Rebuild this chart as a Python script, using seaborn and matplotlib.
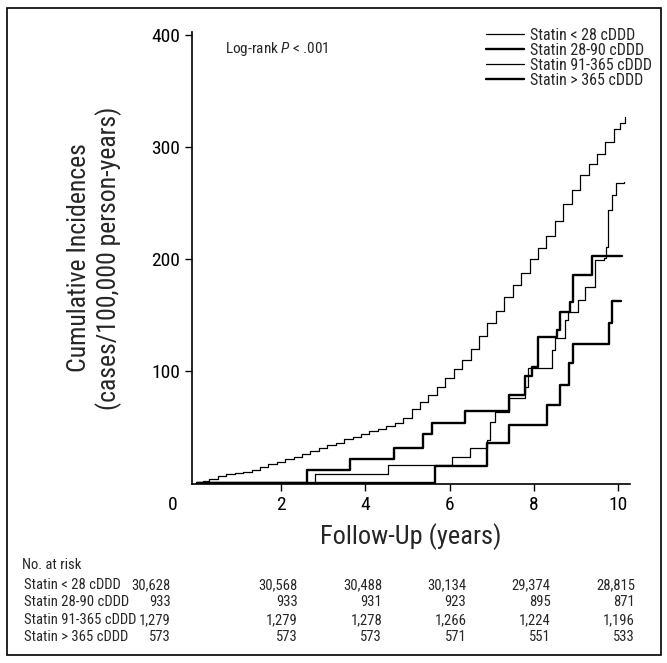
import numpy as np
import pandas as pd
import seaborn as sns
import matplotlib.pyplot as plt
from matplotlib import font_manager
from matplotlib.patches import Rectangle
from matplotlib.transforms import ScaledTranslation, blended_transform_factory

# Cumulative incidence curves (years, cases/100,000 person-years)
low_t = [0, 0.15, 0.3, 0.5, 0.7, 0.9, 1.1, 1.3, 1.5, 1.7, 1.9, 2.1, 2.3, 2.5, 2.7,
         2.9, 3.1, 3.3, 3.5, 3.7, 3.9, 4.1, 4.3, 4.5, 4.7, 4.9, 5.1, 5.3, 5.5, 5.7,
         5.9, 6.1, 6.3, 6.5, 6.7, 6.9, 7.1, 7.3, 7.5, 7.7, 7.9, 8.1, 8.3, 8.5, 8.7,
         8.9, 9.1, 9.3, 9.5, 9.7, 9.9, 10.05, 10.17]
low_y = [0, 2, 4, 6, 8, 9, 10, 12, 14.6, 17, 19, 21, 23.5, 26, 28.5,
         31, 33.5, 36, 39, 41, 43.5, 46, 48.5, 51, 54, 58, 66, 72, 79, 86,
         94, 102, 110, 120, 131, 143, 154, 166, 177, 188, 200, 210, 221, 234, 249,
         262, 275, 285, 294, 305, 316, 322, 327]

mid_t = [0, 2.61, 3.64, 4.67, 5.38, 5.58, 6.37, 7.4, 7.8, 7.95, 8.11, 8.55, 8.63,
         8.86, 8.94, 9.38, 10.09]
mid_y = [0, 11.6, 21, 31.5, 43.5, 54, 64, 78.6, 96, 104, 130.6, 136.6, 153,
         162, 185.7, 202.7, 202.7]

high_t = [0, 2.81, 4.55, 6.05, 6.49, 6.9, 6.96, 7.08, 7.4, 7.8, 7.87, 8.43, 8.51,
          8.75, 8.82, 9.06, 9.22, 9.46, 9.66, 9.72, 9.76, 9.86, 9.95, 10.15]
high_y = [0, 8, 16, 23.5, 31, 38.4, 54.8, 63.7, 75.6, 86, 102.4, 118.8, 129.2,
          145.5, 153, 163.4, 175.3, 199, 201, 211, 244, 257, 268, 269]

top_t = [0, 5.66, 6.9, 7.4, 8.31, 8.63, 8.83, 8.94, 9.78, 9.85, 10.07]
top_y = [0, 15.5, 35.4, 51.8, 69.6, 87.5, 107, 124, 142.6, 162.5, 162.5]

groups = ["Statin < 28 cDDD", "Statin 28-90 cDDD", "Statin 91-365 cDDD", "Statin > 365 cDDD"]

# Number at risk
risk_times = [0, 2, 4, 6, 8, 10]
risk_low = ["30,628", "30,568", "30,488", "30,134", "29,374", "28,815"]
risk_mid = ["933", "933", "931", "923", "895", "871"]
risk_high = ["1,279", "1,279", "1,278", "1,266", "1,224", "1,196"]
risk_top = ["573", "573", "573", "571", "551", "533"]

# pick a narrow face if one is installed
names = {f.name for f in font_manager.fontManager.ttflist}
narrow = [n for n in ["Liberation Sans Narrow", "Roboto Condensed", "DejaVu Sans Condensed",
                      "Open Sans Condensed", "Noto Sans Condensed"] if n in names]
family = narrow[0] if narrow else "Liberation Sans"
scale = 1.0 if narrow else 0.86

sns.set_style("ticks")
plt.rcParams["font.family"] = [family, "DejaVu Sans"]
plt.rcParams["mathtext.fontset"] = "custom"
plt.rcParams["mathtext.rm"] = family
plt.rcParams["mathtext.it"] = family + ":italic"

fig = plt.figure(figsize=(6.67, 6.63), dpi=100)
ax = fig.add_axes([0.288, 0.270, 0.657, 0.682])

curves = [(low_t, low_y, 0.9), (mid_t, mid_y, 1.7), (high_t, high_y, 0.9), (top_t, top_y, 1.7)]
for (t, y, lw), name in zip(curves, groups):
    df = pd.DataFrame({"t": t, "y": y})
    sns.lineplot(df, x="t", y="y", ax=ax, color="black", linewidth=lw,
                 drawstyle="steps-post", label=name, estimator=None)

ax.set_xlim(-0.11, 10.29)
ax.set_ylim(-0.9, 403)
ax.set_xticks(risk_times)
ax.set_xticklabels([str(t) for t in risk_times])
ax.set_yticks([100, 200, 300, 400])
ax.tick_params(axis="both", direction="out", length=5, width=1, labelsize=14 * scale,
               colors="black")
ax.xaxis.get_major_ticks()[0].tick1line.set_visible(False)
lab0 = ax.get_xticklabels()[0]
lab0.set_transform(lab0.get_transform() + ScaledTranslation(-0.24, 0, fig.dpi_scale_trans))
for s in ["top", "right"]:
    ax.spines[s].set_visible(False)
for s in ["left", "bottom"]:
    ax.spines[s].set_color("black")
    ax.spines[s].set_linewidth(1.2)

ax.set_xlabel("Follow-Up (years)", fontsize=19 * scale, labelpad=7)
ax.set_ylabel("Cumulative Incidences\n(cases/100,000 person-years)", fontsize=18.5 * scale,
              labelpad=21, linespacing=1.2)

ax.text(0.67, 388, "Log-rank $P$ < .001", fontsize=11 * scale, va="center", ha="left")

ax.legend(loc="upper right", bbox_to_anchor=(0.978, 0.958), bbox_transform=fig.transFigure,
          frameon=False, fontsize=11.5 * scale, handlelength=2.4, handletextpad=0.4,
          labelspacing=0.0, borderpad=0, borderaxespad=0)

# at-risk table
trans = blended_transform_factory(ax.transData, fig.transFigure)
fs_table = 10.5 * scale
fig.text(0.033, 1 - 565 / 663, "No. at risk", fontsize=fs_table, va="center")
rows = [risk_low, risk_mid, risk_high, risk_top]
row_y = [585, 602, 620, 637]
for name, vals, py in zip(groups, rows, row_y):
    fig.text(0.036, 1 - py / 663, name, fontsize=fs_table, va="center")
    for t, v in zip(risk_times, vals):
        x = -0.62 if t == 0 else t + 0.4
        ax.text(x, 1 - py / 663, v, transform=trans, fontsize=fs_table, va="center",
                ha="right", clip_on=False)

fig.patches.append(Rectangle((0.011, 0.012), 0.98, 0.976, transform=fig.transFigure,
                             fill=False, edgecolor="black", linewidth=1.2))

plt.savefig("out.png", dpi=100)
